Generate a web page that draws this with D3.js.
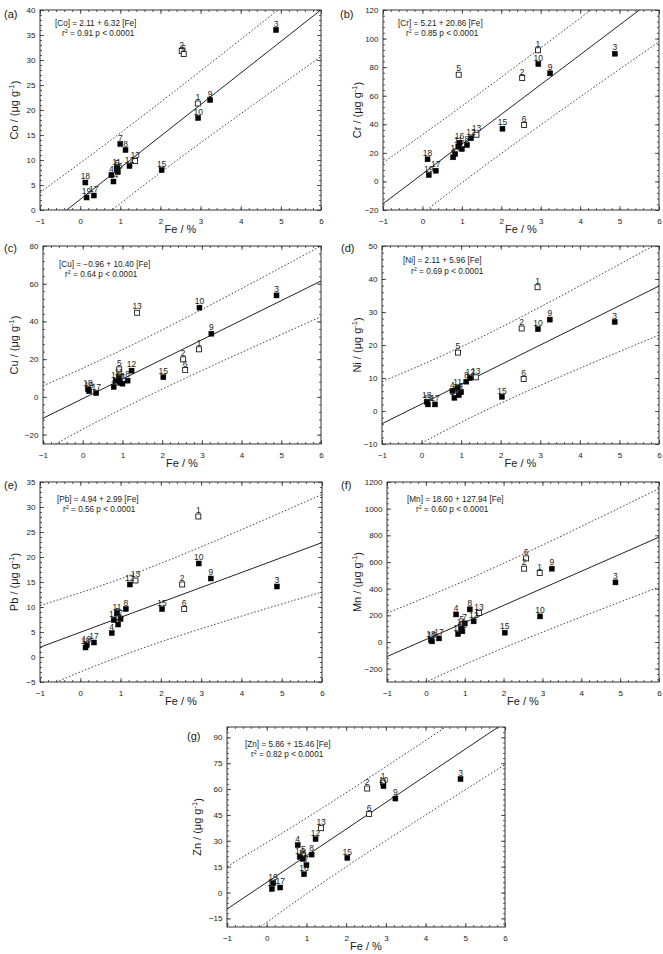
<!DOCTYPE html>
<html><head><meta charset="utf-8">
<script src="https://cdn.jsdelivr.net/npm/d3@7"></script>
<style>
body{margin:0;background:#fff}
svg{display:block}
text{font-family:"Liberation Sans",Arial,Helvetica,sans-serif;fill:#1a1a1a}
</style>
</head><body>
<svg id="chart" width="663" height="954"></svg>
<script>
// ---------------- DATA ----------------
const sampleIds = [1,2,3,4,5,6,7,8,9,10,11,12,13,14,15,16,17,18,19];
const openIds = [1,2,5,6,13];
const fe = [2.93,2.53,4.88,0.78,0.92,2.58,1.00,1.13,3.24,2.94,0.91,1.23,1.37,0.83,2.03,0.94,0.34,0.13,0.16];

const co = [21.3,31.8,36.0,7.0,8.2,31.2,13.2,12.0,22.0,18.4,8.4,8.8,9.8,5.7,8.0,7.6,2.9,5.5,2.5];
const cr = [91.8,72.4,89.4,16.9,74.7,39.5,22.7,25.5,75.7,82.2,24.5,30.2,32.7,19.2,36.9,27.1,7.5,15.5,4.5];
const cu = [25.2,19.9,53.8,5.3,14.6,14.3,7.0,8.6,33.5,47.3,10.0,13.9,44.6,8.5,10.4,7.5,2.0,4.1,3.0];
const ni = [37.5,25.0,27.0,6.1,17.7,9.7,5.7,8.9,27.7,24.8,7.0,10.0,10.2,4.0,4.3,4.8,2.0,2.8,2.0];
const pb = [28.1,14.5,14.1,4.8,8.0,9.6,7.6,9.6,15.7,18.7,8.8,14.5,15.3,7.4,9.6,6.5,2.9,1.9,2.4];
const mn = [517,550,447,207,125,627,140,245,550,192,100,155,217,60,70,80,27,15,5];
const zn = [63.8,60.3,65.8,27.5,21.5,45.6,15.9,22.0,54.5,61.7,19.5,31.0,37.3,20.7,20.1,10.6,2.9,2.1,5.4];

const elements = ["Co","Cr","Cu","Ni","Pb","Mn","Zn"];
const panelTags = ["(a)","(b)","(c)","(d)","(e)","(f)","(g)"];
const intercepts = [2.11,5.21,-0.96,2.11,4.94,18.60,5.86];
const slopes = [6.32,20.86,10.40,5.96,2.99,127.94,15.46];
const r2 = [0.91,0.85,0.64,0.69,0.56,0.60,0.82];

// prediction bands at these Fe values
const bandFe = [-1,1.5,6];
const coUpper=[3.5,18.2,46.8],   coLower=[-11.9,5.0,30.7];
const crUpper=[13.1,62.0,156],   crLower=[-44.5,11,97.8];
const cuUpper=[5.8,29.1,80],     cuLower=[-28.6,0.1,42.5];
const niUpper=[8.9,21.5,51],     niLower=[-16.5,0.5,23];
const pbUpper=[10.3,16.6,32.5],  pbLower=[-6.4,2.2,13.0];
const mnUpper=[217,510,1150],    mnLower=[-440,-90,412];
const znUpper=[15.1,49.6,119],   znLower=[-34.3,8.5,74.2];

const feDomain = [-1,6];
const feTicks = [-1,0,1,2,3,4,5,6];
const coDomain=[0,40],    coTicks=[0,5,10,15,20,25,30,35,40];
const crDomain=[-20,120], crTicks=[-20,0,20,40,60,80,100,120];
const cuDomain=[-25,80],  cuTicks=[-20,0,20,40,60,80];
const niDomain=[-10,50],  niTicks=[-10,0,10,20,30,40,50];
const pbDomain=[-5,35],   pbTicks=[-5,0,5,10,15,20,25,30,35];
const mnDomain=[-300,1200], mnTicks=[-200,0,200,400,600,800,1000,1200];
const znDomain=[-20,96],  znTicks=[-15,0,15,30,45,60,75,90];

// ---------------- LAYOUT ----------------
const layout = [
 {x0:40, y0:10, x1:321, y1:210, tx:4,  ty:18,  lx:14,  ex:15, ey:16, rx:22, ry:26},
 {x0:383,y0:10, x1:659, y1:210, tx:340,ty:18,  lx:357, ex:15, ey:16, rx:23, ry:26},
 {x0:43, y0:246,x1:321, y1:444, tx:4,  ty:252, lx:14,  ex:16, ey:21, rx:22, ry:31},
 {x0:382,y0:246,x1:659, y1:444, tx:341,ty:252, lx:357, ex:21, ey:17, rx:29, ry:28},
 {x0:40, y0:482,x1:322, y1:682, tx:4,  ty:489, lx:14,  ex:17, ey:20, rx:23, ry:30},
 {x0:387,y0:482,x1:659, y1:682, tx:341,ty:489, lx:357, ex:20, ey:20, rx:29, ry:30},
 {x0:227,y0:727,x1:505, y1:927, tx:187,ty:740, lx:197, ex:18, ey:20, rx:24, ry:30}
];

const values = [co,cr,cu,ni,pb,mn,zn];
const domains = [coDomain,crDomain,cuDomain,niDomain,pbDomain,mnDomain,znDomain];
const ticks = [coTicks,crTicks,cuTicks,niTicks,pbTicks,mnTicks,znTicks];
const uppers = [coUpper,crUpper,cuUpper,niUpper,pbUpper,mnUpper,znUpper];
const lowers = [coLower,crLower,cuLower,niLower,pbLower,mnLower,znLower];

const svg = d3.select("#chart");
const defs = svg.append("defs");
const FONT = '"Liberation Sans",Arial,Helvetica,sans-serif';

function minorTicks(major, dom){
  const step = (major[1]-major[0])/5;
  const out = [];
  for (let v = major[0]-10*step; v <= dom[1]+1e-9; v += step){
    const vv = Math.round(v*1000)/1000;
    if (vv >= dom[0]-1e-9 && vv <= dom[1]+1e-9) out.push(vv);
  }
  return out;
}

elements.forEach((el,i)=>{
  const L = layout[i];
  const x = d3.scaleLinear().domain(feDomain).range([L.x0,L.x1]);
  const y = d3.scaleLinear().domain(domains[i]).range([L.y1,L.y0]);
  const g = svg.append("g");

  defs.append("clipPath").attr("id","clip"+i).append("rect")
    .attr("x",L.x0).attr("y",L.y0).attr("width",L.x1-L.x0).attr("height",L.y1-L.y0);

  const xMinor = minorTicks(feTicks, feDomain);
  const yMinor = minorTicks(ticks[i], domains[i]);

  function axisG(axis, tx, ty){
    const a = g.append("g").attr("transform",`translate(${tx},${ty})`).call(axis);
    a.select(".domain").remove();
    a.selectAll("line").attr("stroke","#333").attr("stroke-width",0.8);
    a.selectAll("text").attr("font-family",FONT).attr("font-size",8).attr("fill","#1a1a1a");
    return a;
  }
  // minor ticks
  axisG(d3.axisBottom(x).tickValues(xMinor).tickSize(-2).tickFormat(""),0,L.y1);
  axisG(d3.axisTop(x).tickValues(xMinor).tickSize(-2).tickFormat(""),0,L.y0);
  axisG(d3.axisLeft(y).tickValues(yMinor).tickSize(-2).tickFormat(""),L.x0,0);
  axisG(d3.axisRight(y).tickValues(yMinor).tickSize(-2).tickFormat(""),L.x1,0);
  // major ticks
  axisG(d3.axisBottom(x).tickValues(feTicks).tickSize(-4).tickPadding(8).tickFormat(d3.format("d")),0,L.y1);
  axisG(d3.axisTop(x).tickValues(feTicks).tickSize(-4).tickFormat(""),0,L.y0);
  axisG(d3.axisLeft(y).tickValues(ticks[i]).tickSize(-4).tickPadding(4.5).tickFormat(d3.format("d")),L.x0,0);
  axisG(d3.axisRight(y).tickValues(ticks[i]).tickSize(-4).tickFormat(""),L.x1,0);

  // frame
  g.append("rect").attr("x",L.x0).attr("y",L.y0).attr("width",L.x1-L.x0).attr("height",L.y1-L.y0)
    .attr("fill","none").attr("stroke","#333").attr("stroke-width",1);

  const clipped = g.append("g").attr("clip-path",`url(#clip${i})`);
  // bands
  const bandLine = d3.line().x(d=>x(d[0])).y(d=>y(d[1])).curve(d3.curveBasis);
  [uppers[i],lowers[i]].forEach(arr=>{
    clipped.append("path").datum(bandFe.map((f,k)=>[f,arr[k]]))
      .attr("d",bandLine).attr("fill","none").attr("stroke","#333")
      .attr("stroke-width",0.9).attr("stroke-dasharray","1.6,1.9");
  });
  // regression
  clipped.append("line")
    .attr("x1",x(feDomain[0])).attr("y1",y(intercepts[i]+slopes[i]*feDomain[0]))
    .attr("x2",x(feDomain[1])).attr("y2",y(intercepts[i]+slopes[i]*feDomain[1]))
    .attr("stroke","#222").attr("stroke-width",1);

  // points: open first, filled on top
  const pts = sampleIds.map((id,k)=>({id, fe:fe[k], v:values[i][k], open:openIds.includes(id)}));
  const ordered = pts.filter(d=>d.open).concat(pts.filter(d=>!d.open));
  const S = 5;
  g.selectAll("rect.pt").data(ordered).enter().append("rect").attr("class","pt")
    .attr("x",d=>x(d.fe)-S/2).attr("y",d=>y(d.v)-S/2).attr("width",S).attr("height",S)
    .attr("fill",d=>d.open?"#fff":"#000").attr("stroke","#000").attr("stroke-width",d=>d.open?0.8:0.5);
  g.selectAll("text.pl").data(ordered).enter().append("text").attr("class","pl")
    .attr("x",d=>x(d.fe)).attr("y",d=>y(d.v)-3.3).attr("text-anchor","middle")
    .attr("font-size",8.5).text(d=>d.id);

  // equation
  const fmt = d3.format(".2f");
  g.append("text").attr("x",L.x0+L.ex).attr("y",L.y0+L.ey).attr("font-size",8.2)
    .text(`[${el}] = ${fmt(intercepts[i])} + ${fmt(slopes[i])} [Fe]`);
  const rt = g.append("text").attr("x",L.x0+L.rx).attr("y",L.y0+L.ry).attr("font-size",8.2);
  rt.append("tspan").text("r");
  rt.append("tspan").attr("dy",-3).attr("font-size",5.5).text("2");
  rt.append("tspan").attr("dy",3).text(` = ${fmt(r2[i])} p < 0.0001`);

  // panel tag
  g.append("text").attr("x",L.tx).attr("y",L.ty).attr("font-size",11).text(panelTags[i]);

  // axis titles
  g.append("text").attr("x",(L.x0+L.x1)/2).attr("y",L.y1+23).attr("text-anchor","middle")
    .attr("font-size",11).text("Fe / %");
  const yt = g.append("text").attr("text-anchor","middle").attr("font-size",11)
    .attr("transform",`translate(${L.lx},${(L.y0+L.y1)/2}) rotate(-90)`).attr("dy","0.35em");
  yt.append("tspan").text(`${el} / (μg g`);
  yt.append("tspan").attr("dy","-0.45em").attr("font-size",7.5).text("-1");
  yt.append("tspan").attr("dy","0.45em").text(")");
});
</script>
</body></html>
